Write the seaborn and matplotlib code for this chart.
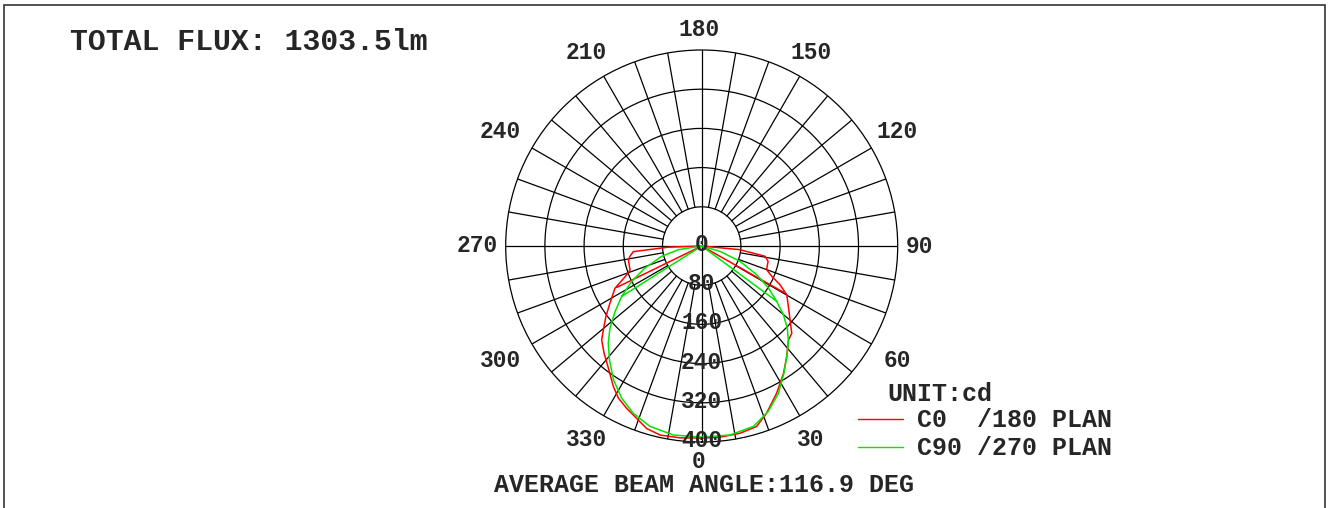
import numpy as np
import pandas as pd
import matplotlib
matplotlib.use("Agg")
import matplotlib.pyplot as plt
import matplotlib.transforms as mtransforms
import seaborn as sns
from matplotlib.lines import Line2D
from matplotlib.patches import Rectangle

# --- data (angle in deg, intensity in cd) ---
# drawing order: chord end -> centre -> left half -> bottom -> right half -> centre -> chord end
red_angle = [296, 270, 272, 274.7, 278.2, 280.8, 284.4, 288.5, 291.8, 296, 302, 306.4,
             310.5, 313.2, 317.7, 322.7, 327.9, 331.3, 335.2, 339.3, 343.2, 347.6,
             353.6, 0, 5.5, 11.6, 16.9, 21.2, 27, 32.7, 37.5, 42.7, 45.9, 50.8, 55.9,
             60.2, 63.7, 66.6, 70, 77, 80.8, 84.5, 90, 60.5]
red_cd = [192, 0, 68, 140, 148, 152, 153, 154, 168, 197, 221, 243,
          264, 280, 296, 314, 339, 354, 365, 376, 389, 395,
          394, 392, 392, 390, 385, 366, 337, 309, 285, 261, 256, 232, 213,
          200, 178, 156, 141, 139, 131, 78, 0, 192]

green_angle = [302.2, 270, 279, 284.4, 291.2, 296.8, 302.2, 307, 311.8, 316.1, 321,
               326.6, 332.3, 337.8, 344, 351.5, 0, 8.5, 16, 21.9, 27.5, 32.9, 38.6,
               42.3, 46.2, 49.9, 53.6, 57.8, 62.4, 68.2, 73.8, 90, 53.6]
green_cd = [193, 0, 48, 84, 124, 160, 193, 221, 251, 275, 299,
            327, 351, 369, 383, 390, 390, 390, 383, 364, 339, 309, 280,
            263, 242, 218, 190, 161, 127, 84, 39, 0, 190]

ring_values = [80, 160, 240, 320, 400]
angle_labels = [0, 30, 60, 90, 120, 150, 180, 210, 240, 270, 300, 330]
plane_names = ["C0  /180 PLAN", "C90 /270 PLAN"]
total_flux = "1303.5lm"
beam_angle = "116.9"

W, H = 1328, 508
R_PX = 196  # radius of the 400 cd circle in pixels


def fx(x):
    return x / W


def fy(y):
    return 1 - y / H


sns.set_style("white")
plt.rcParams["font.family"] = ["Liberation Mono", "DejaVu Sans Mono"]
plt.rcParams["font.weight"] = "bold"

fig = plt.figure(figsize=(W / 100, H / 100), dpi=100)
ax = fig.add_axes([505.7 / W, 66 / H, 392 / W, 392 / H], projection="polar")
ax.set_theta_zero_location("S")
ax.set_theta_direction(1)
ax.set_ylim(0, 400)
ax.set_facecolor("white")

# grid: rings + radial spokes every 10 deg (only the axes cross the centre)
ax.set_xticks([])
ax.set_yticks(ring_values[:-1])
ax.set_yticklabels([])
ax.grid(False)
ax.yaxis.grid(True, color="black", lw=0.9)
ax.spines["polar"].set_color("black")
ax.spines["polar"].set_linewidth(0.9)
for a in range(0, 360, 10):
    r0 = 0 if a % 90 == 0 else ring_values[0]
    ax.plot([np.deg2rad(a)] * 2, [r0, 400], color="black", lw=0.9, zorder=1)

df = pd.concat([
    pd.DataFrame({"theta": np.deg2rad(red_angle), "cd": red_cd, "plane": plane_names[0]}),
    pd.DataFrame({"theta": np.deg2rad(green_angle), "cd": green_cd, "plane": plane_names[1]}),
], ignore_index=True)
colors = {plane_names[0]: "#ff0000", plane_names[1]: "#00e600"}
sns.lineplot(data=df, x="theta", y="cd", hue="plane", palette=colors, sort=False,
             estimator=None, legend=False, lw=1.1, ax=ax, zorder=3)
ax.set_xlabel("")
ax.set_ylabel("")

# angle labels (distance from centre in px depends a little on the direction)
label_dist = {0: 216, 30: 224, 60: 229, 90: 221}
shift = ax.transData + mtransforms.ScaledTranslation(-3 / 100, 0, fig.dpi_scale_trans)
for a in angle_labels:
    m = a % 180
    d = label_dist[min(m, 180 - m)]
    ax.text(np.deg2rad(a), 400 * d / R_PX, str(a), ha="center", va="center",
            fontsize=16.5, fontweight="bold", clip_on=False, transform=shift)

# intensity labels along the 0 deg axis (nudged 1.5 px towards the centre)
up = ax.transData + mtransforms.ScaledTranslation(0, 1.5 / 100, fig.dpi_scale_trans)
for v in [0] + ring_values:
    ax.text(0, v, str(v), ha="center", va="center", fontsize=16.5,
            fontweight="bold", zorder=4, clip_on=False, transform=up)

fig.text(fx(70), fy(50), "TOTAL FLUX: " + total_flux, fontsize=21.5, fontweight="bold",
         va="baseline")
fig.text(fx(704.5), fy(491.7), "AVERAGE BEAM ANGLE:" + beam_angle + " DEG", fontsize=18,
         fontweight="bold", ha="center", va="baseline")

# legend
fig.text(fx(887.3), fy(400.7), "UNIT:cd", fontsize=18, fontweight="bold", va="baseline")
for i, name in enumerate(plane_names):
    yl = 419.3 + i * 28
    fig.add_artist(Line2D([fx(858), fx(903)], [fy(yl)] * 2, color=colors[name], lw=1))
    fig.text(fx(916.7), fy(426.7 + i * 28.3), name, fontsize=18, fontweight="bold",
             va="baseline")

# outer frame
fig.add_artist(Rectangle((fx(4), fy(512)), fx(1325) - fx(4), fy(5) - fy(512),
                         fill=False, edgecolor="#333333", lw=1.2))

fig.savefig("out.png", dpi=100)
